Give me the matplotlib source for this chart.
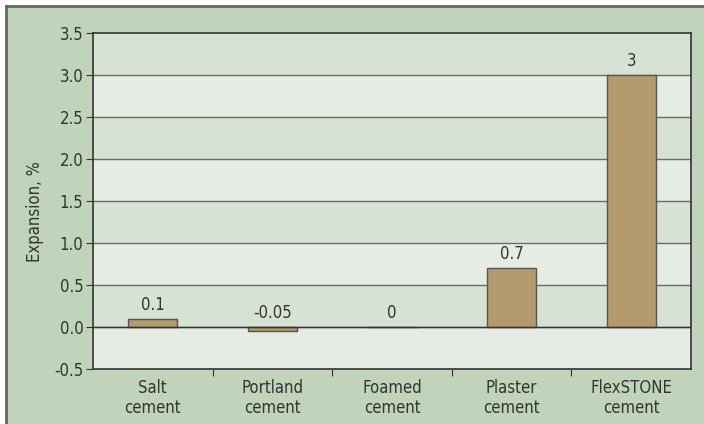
import numpy as np
import matplotlib.pyplot as plt
from matplotlib.patches import Rectangle
from matplotlib.lines import Line2D

# data
categories = ["Salt\ncement", "Portland\ncement", "Foamed\ncement", "Plaster\ncement", "FlexSTONE\ncement"]
expansion = [0.1, -0.05, 0.0, 0.7, 3.0]
value_labels = ["0.1", "-0.05", "0", "0.7", "3"]
yticks = [-0.5, 0.0, 0.5, 1.0, 1.5, 2.0, 2.5, 3.0, 3.5]

plt.rcParams['font.family'] = ['DejaVu Sans']
plt.rcParams['font.stretch'] = 'condensed'

txt = '#333333'
fig = plt.figure(figsize=(7.04, 4.24), dpi=100)
fig.patch.set_facecolor('white')

# green panel with grey top/left edge
fig.patches.append(Rectangle((6/704, 0), 1, 1 - 6/424, transform=fig.transFigure,
                             facecolor='#c0d4bb', edgecolor='none', zorder=-2))
fig.lines.append(Line2D([6/704, 1], [1 - 6/424, 1 - 6/424], transform=fig.transFigure,
                        color='#666666', lw=2, zorder=-1))
fig.lines.append(Line2D([6/704, 6/704], [0, 1 - 6/424], transform=fig.transFigure,
                        color='#666666', lw=2, zorder=-1))

ax = fig.add_axes([93/704, 1 - 369/424, (691 - 93)/704, (369 - 33)/424])
ax.set_zorder(1)
ax.set_facecolor('#e6ebe4')
ax.set_xlim(-0.5, len(categories) - 0.5)
ax.set_ylim(-0.5, 3.5)

# alternating bands
for i, lo in enumerate(yticks[:-1]):
    if i % 2 == 1:
        ax.axhspan(lo, lo + 0.5, color='#d6e2d2', zorder=0, lw=0)
for y in yticks[1:-1]:
    ax.axhline(y, color='#6b6b6b', lw=1, zorder=1)
ax.axhline(0, color='#333333', lw=1, zorder=3)

x = np.arange(len(categories))
ax.bar(x, expansion, width=0.41, color='#b39a6c', edgecolor='#555555', lw=1, zorder=2)

for xi, v, lab in zip(x, expansion, value_labels):
    ax.annotate(lab, (xi, max(v, 0)), xytext=(0, 3.5), textcoords='offset points',
                ha='center', va='bottom', fontsize=12, color=txt)

for s in ax.spines.values():
    s.set_color('#333333')
    s.set_linewidth(1.2)

ax.set_yticks(yticks)
ax.set_yticklabels([f"{t:.1f}" for t in yticks])
# separator ticks between categories only
ax.set_xticks(x[:-1] + 0.5, minor=False)
ax.set_xticklabels([])
ax.set_xticks(x, minor=True)
ax.set_xticklabels(categories, minor=True)
ax.tick_params(axis='x', which='major', length=5, color='#333333', direction='out')
ax.tick_params(axis='x', which='minor', length=0, pad=7, labelsize=12, labelcolor=txt)
ax.tick_params(axis='y', length=5, color='#333333', labelsize=12, labelcolor=txt, pad=2)
for t in ax.get_xticklabels(minor=True):
    t.set_linespacing(1.15)

fig.text(35/704, 0.5, "Expansion, %", rotation=90, ha='center', va='center',
         fontsize=12, color=txt)

fig.savefig('out.png', dpi=100)
